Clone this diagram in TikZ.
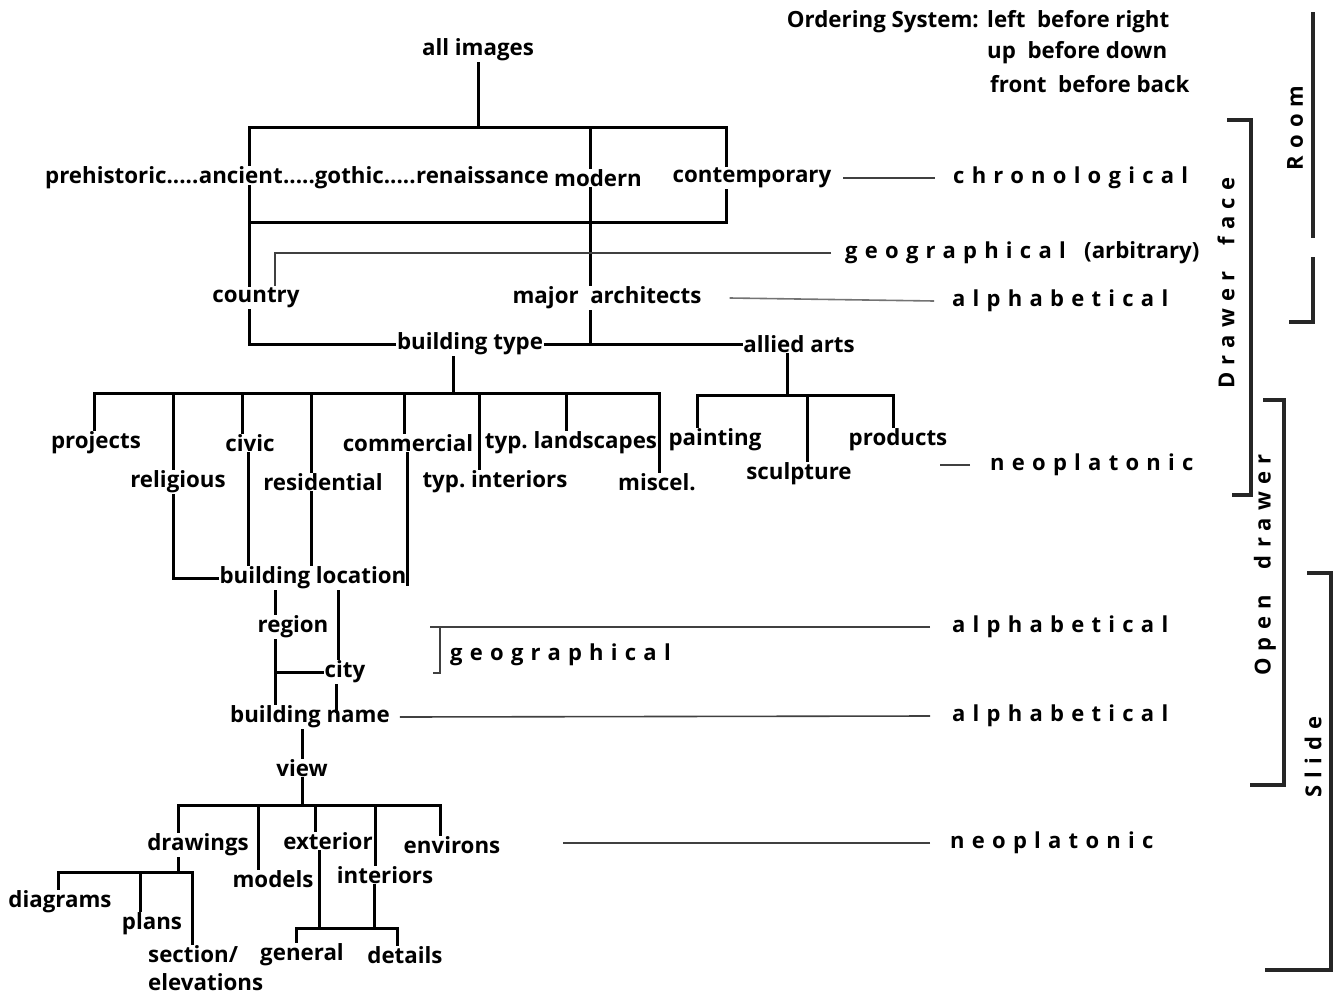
\documentclass[tikz,border=0pt]{standalone}
\usepackage{fontspec}
\setmainfont{Open Sans}
\newfontfamily\spc{Open Sans}[LetterSpace=33]
\usetikzlibrary{positioning}
\frenchspacing
\tikzset{
  lbl/.style={inner sep=2pt,font=\bfseries\fontsize{22.3}{28}\selectfont},
  ord/.style={inner sep=2pt,font=\spc\bfseries\fontsize{22}{28}\selectfont},
  seg/.style={inner xsep=0pt},
  ln/.style={line width=3pt,line cap=rect},
  rule/.style={line width=1.6pt,black!75},
  brk/.style={line width=3.2pt,black!85}
}

\begin{document}
\begin{tikzpicture}[x=1pt,y=-1pt,every node/.style=lbl]
\useasboundingbox (0,0) rectangle (1335,1001);
% ordering note
\node[anchor=east] (os) at (981,22) {Ordering System:};
\node[anchor=west] (o1) at (985,22) {left~ before right};
\node[anchor=west] (o2) at (985,53) {up~ before down};
\node[anchor=west] (o3) at (988,84) {front~ before back};

% periods
\node (all) at (478,50) {all images};
\node[seg,anchor=west] (pre) at (45,178) {prehistoric.....};
\node[seg,anchor=base west] (anc) at (pre.base east) {ancient};
\node[seg,anchor=base west] (goth) at (anc.base east) {.....gothic.....};
\node[seg,anchor=base west] (ren) at (goth.base east) {renaissance};
\node (mod) at (598,178) {modern};
\node (cont) at (752,178) {contemporary};
\node[ord,anchor=west] (chr) at (951,178) {chronological};
\node (ctry) at (256,298) {country};
\node (arch) at (607,298) {major~ architects};
\node[ord,anchor=west] (geo) at (843,253) {geographical};
\node[anchor=base west] (arb) at ([xshift=14pt]geo.base east) {(arbitrary)};
\node[ord,anchor=west] (alp1) at (950,301) {alphabetical};
\node (bty) at (470,344) {building type};
\node (allied) at (799,344) {allied arts};

\coordinate (tb) at (0,127);
\coordinate (mb) at (0,222);
\draw[ln] (all.south) -- (all.south |- tb);
\draw[ln] ([xshift=-7pt]ctry.north |- anc.north) |- ([xshift=-26pt]cont.north |- tb) -- ([xshift=-26pt]cont.north);
\draw[ln] ([xshift=-17pt]arch.north |- tb) -- ([xshift=-17pt]arch.north |- mod.north);
\draw[ln] ([xshift=-7pt]ctry.north |- anc.south) -- ([xshift=-7pt]ctry.north);
\draw[ln] ([xshift=-7pt]ctry.north |- mb) -| ([xshift=-26pt]cont.south);
\draw[ln] ([xshift=-17pt]arch.north |- mod.south) -- ([xshift=-17pt]arch.north);
\draw[rule] ([xshift=-12pt]geo.west) -| ([xshift=19pt]ctry.north);
\draw[rule] ([xshift=10pt]cont.east) -- ([xshift=-16pt]chr.west);
\draw[rule,black!55] ([xshift=26pt]arch.east) -- ([xshift=-16pt]alp1.west);
\draw[ln] ([xshift=-7pt]ctry.south) |- (bty.west);
\draw[ln] (bty.east) -- (allied.west);
\draw[ln] ([xshift=-17pt]arch.south) -- ([xshift=-17pt]arch.south |- bty.east);

% building types
\node (proj) at (96,443) {projects};
\node (relig) at (178,482) {religious};
\node (civic) at (250,443) {civic};
\node (resid) at (323,482) {residential};
\node (comm) at (408,443) {commercial};
\node (tland) at (571,443) {typ. landscapes};
\node (tint) at (495,482) {typ. interiors};
\node (misc) at (657,482) {miscel.};
\coordinate (bb) at (0,393);
\draw[ln] ([xshift=-17pt]bty.south) -- ([xshift=-17pt]bty.south |- bb);
\draw[ln] ([xshift=-2pt]proj.north |- bb) -- ([xshift=2pt]misc.north |- bb);
\foreach \n/\s in {proj/-2,relig/-5,civic/-8,resid/-12,comm/-4,tint/-16,tland/-5,misc/2}
  \draw[ln] ([xshift=\s pt]\n.north) -- ([xshift=\s pt]\n.north |- bb);

% allied arts
\node (paint) at (715,440) {painting};
\node (sculp) at (799,474) {sculpture};
\node (prod) at (898,440) {products};
\node[ord,anchor=west] (neo1) at (988,465) {neoplatonic};
\coordinate (ab) at (0,395);
\draw[ln] ([xshift=-12pt]allied.south) -- ([xshift=-12pt]allied.south |- ab);
\draw[ln] ([xshift=-18pt]paint.north |- ab) -- ([xshift=-5pt]prod.north |- ab);
\foreach \n/\s in {paint/-18,sculp/8,prod/-5}
  \draw[ln] ([xshift=\s pt]\n.north) -- ([xshift=\s pt]\n.north |- ab);
\draw[rule] ([xshift=-18pt]neo1.west) -- ([xshift=-48pt]neo1.west);

% location
\node (bloc) at (313,578) {building location};
\draw[ln] ([xshift=-5pt]relig.south) |- (bloc.west);
\draw[ln] ([xshift=-2pt]civic.south) -- ([xshift=-2pt]civic.south |- bloc.north);
\draw[ln] ([xshift=-12pt]resid.south) -- ([xshift=-12pt]resid.south |- bloc.north);
\draw[ln] ([xshift=-1pt]comm.south) -- ([xshift=-1pt,yshift=-6pt]comm.south |- bloc.east);
\node (reg) at (293,627) {region};
\node (city) at (345,672) {city};
\node (bname) at (310,717) {building name};
\draw[ln] ([xshift=-18pt]reg.north |- bloc.south) -- ([xshift=-18pt]reg.north);
\draw[ln] ([xshift=-7pt]city.north |- bloc.south) -- ([xshift=-7pt]city.north);
\draw[ln] ([xshift=-18pt]reg.south) -- ([xshift=-18pt]reg.south |- bname.north);
\draw[ln] ([xshift=-18pt]reg.south |- city.west) -- (city.west);
\draw[ln] ([xshift=-9pt]city.south) -- ([xshift=-9pt,yshift=-8pt]city.south |- bname.north);
\node[ord,anchor=west] (alp2) at (950,627) {alphabetical};
\node[ord,anchor=west] (geo2) at (448,655) {geographical};
\draw[rule] ([xshift=-20pt]alp2.west) -- ([xshift=-18pt]geo2.west |- alp2.west);
\draw[rule] ([xshift=-8pt]geo2.west |- alp2.west) |- ([xshift=-15pt,yshift=-18pt]geo2.west);
\node[ord,anchor=west] (alp3) at (950,716) {alphabetical};
\draw[rule] ([xshift=8pt]bname.east) -- ([xshift=-20pt]alp3.west);

% views
\node (view) at (302,768) {view};
\node (drw) at (198,845) {drawings};
\node (mdl) at (273,879) {models};
\node (ext) at (328,841) {exterior};
\node (intr) at (385,875) {interiors};
\node (env) at (452,845) {environs};
\node[ord,anchor=west] (neo2) at (948,843) {neoplatonic};
\coordinate (vb) at (0,805);
\draw[ln] (view.north |- bname.south) -- (view.north);
\draw[ln] (view.south) -- (view.south |- vb);
\draw[ln] ([xshift=-20pt]drw.north |- vb) -- ([xshift=-12pt]env.north |- vb);
\foreach \n/\s in {drw/-20,mdl/-15,ext/-13,intr/-10,env/-12}
  \draw[ln] ([xshift=\s pt]\n.north) -- ([xshift=\s pt]\n.north |- vb);
\draw[rule] ([xshift=-18pt]neo2.west) -- ([xshift=-385pt]neo2.west);

% drawings
\node (diag) at (60,902) {diagrams};
\node (plans) at (152,924) {plans};
\node[align=left,anchor=north west] (sect) at (146,943) {section/\\elevations};
\coordinate (db) at (0,872);
\draw[ln] ([xshift=-20pt]drw.south) -- ([xshift=-20pt]drw.south |- db);
\draw[ln] ([xshift=-2pt]diag.north |- db) -- ([xshift=46pt]sect.north west |- db);
\foreach \n/\s in {diag/-2,plans/-12}
  \draw[ln] ([xshift=\s pt]\n.north) -- ([xshift=\s pt]\n.north |- db);
\draw[ln] ([xshift=46pt]sect.north west) -- ([xshift=46pt]sect.north west |- db);

% general / details
\node (gen) at (302,955) {general};
\node (det) at (405,955) {details};
\coordinate (gb) at (0,928);
\draw[ln] ([xshift=-9pt]ext.south) -- ([xshift=-9pt]ext.south |- gb);
\draw[ln] ([xshift=-11pt]intr.south) -- ([xshift=-11pt]intr.south |- gb);
\draw[ln] ([xshift=-6pt]gen.north |- gb) -- ([xshift=-8pt]det.north |- gb);
\foreach \n/\s in {gen/-6,det/-8}
  \draw[ln] ([xshift=\s pt]\n.north) -- ([xshift=\s pt]\n.north |- gb);

% storage levels
\node[ord,rotate=90] (room) at (1295,128) {Room};
\node[ord,rotate=90] (dface) at (1226,283) {Drawer\ \ face};
\node[ord,rotate=90] (odr) at (1265,565) {Open\ \ drawer};
\node[ord,rotate=90] (slide) at (1313,757) {Slide};
\draw[brk] (1313,12) -- (1313,238);
\draw[brk] (1313,257) -- (1313,322) -- (1289,322);
\draw[brk] (1227,120) -- (1251,120) -- (1251,495) -- (1232,495);
\draw[brk] (1263,400) -- (1284,400) -- (1284,785) -- (1250,785);
\draw[brk] (1307,573) -- (1331,573) -- (1331,970) -- (1265,970);
\end{tikzpicture}
\end{document}
